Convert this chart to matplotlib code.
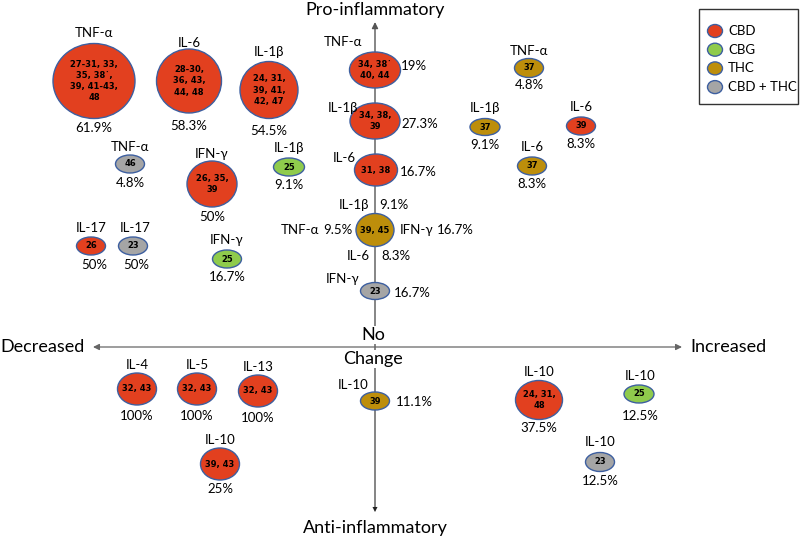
import matplotlib
matplotlib.use("Agg")
import matplotlib.pyplot as plt
from matplotlib.patches import Ellipse

plt.rcParams['font.family'] = ['Lato', 'DejaVu Sans']

# group -> fill colour
GROUPS = ["CBD", "CBG", "THC", "CBD + THC"]
GROUP_COLORS = ["#E2401F", "#8FCB4C", "#BD8E0B", "#A5A5A5"]
EDGE = "#3D5FA0"

# bubbles: cytokine, group, reference numbers, percentage
cytokines = ["TNF-α", "IL-6", "IL-1β", "TNF-α", "IFN-γ", "IL-1β", "IL-17", "IL-17",
             "IFN-γ", "TNF-α", "IL-1β", "IL-6", "", "IFN-γ", "TNF-α", "IL-1β",
             "IL-6", "IL-6", "IL-4", "IL-5", "IL-13", "IL-10", "IL-10", "IL-10",
             "IL-10", "IL-10"]
groups = ["CBD", "CBD", "CBD", "CBD + THC", "CBD", "CBG", "CBD", "CBD + THC",
          "CBG", "CBD", "CBD", "CBD", "THC", "CBD + THC", "THC", "THC",
          "CBD", "THC", "CBD", "CBD", "CBD", "CBD", "THC", "CBD",
          "CBG", "CBD + THC"]
refs = ["27-31, 33,\n35, 38˙,\n39, 41-43,\n48", "28-30,\n36, 43,\n44, 48",
        "24, 31,\n39, 41,\n42, 47", "46", "26, 35,\n39", "25", "26", "23",
        "25", "34, 38˙\n40, 44", "34, 38,\n39", "31, 38", "39, 45", "23", "37", "37",
        "39", "37", "32, 43", "32, 43", "32, 43", "39, 43", "39", "24, 31,\n48",
        "25", "23"]
percents = ["61.9%", "58.3%", "54.5%", "4.8%", "50%", "9.1%", "50%", "50%",
            "16.7%", "19%", "27.3%", "16.7%", "", "16.7%", "4.8%", "9.1%",
            "8.3%", "8.3%", "100%", "100%", "100%", "25%", "11.1%", "37.5%",
            "12.5%", "12.5%"]

# layout in pixel space (x right, y down)
cx = [94, 189, 269, 130, 212, 289, 91, 133, 227, 375, 375, 376, 375, 375, 529, 485,
      581, 532, 137, 197, 258, 220, 375, 539, 639, 600]
cy = [81, 81, 90, 164, 184, 167, 246, 246, 259, 70, 121, 170, 230, 291, 68, 127,
      126, 166, 389, 389, 391, 464, 401, 400, 394, 462]
bw = [82, 65, 58, 29, 50, 31, 29, 29, 29, 51, 50, 43, 38, 29, 29, 30,
      29, 29, 39, 39, 39, 39, 29, 47, 30, 29]
bh = [75, 64, 57, 18, 46, 18, 18, 18, 18, 36, 36, 32, 33, 17, 19, 17,
      18, 18, 32, 32, 32, 32, 18, 39, 18, 19]
lab_xy = [(94, 33), (189, 43), (269, 52), (130, 147), (212, 154), (289, 148),
          (91, 228), (135, 228), (227, 240), (343, 42), (343, 108), (344, 158),
          None, (343, 279), (529, 51), (485, 108), (581, 107), (532, 147),
          (137, 365), (197, 365), (258, 367), (220, 440), (353, 385), (539, 372),
          (640, 376), (600, 442)]
pct_xy = [(94, 128), (189, 126), (269, 131), (130, 183), (212, 217), (289, 185),
          (94, 265), (136, 265), (227, 277), (414, 66), (420, 124), (418, 172),
          None, (412, 293), (529, 85), (485, 145), (581, 144), (532, 184),
          (137, 416), (197, 416), (258, 418), (220, 489), (414, 402), (539, 428),
          (640, 416), (600, 481)]

# notes around the THC "39, 45" bubble
side_text = ["IL-1β", "9.1%", "TNF-α", "9.5%", "IFN-γ", "16.7%", "IL-6", "8.3%"]
side_xy = [(354, 205), (394, 205), (319, 230), (352, 230), (400, 230), (437, 230),
           (358, 256), (396, 256)]
side_ha = ["center", "center", "right", "right", "left", "left", "center", "center"]

fig = plt.figure(figsize=(8, 5.39), dpi=100)
ax = fig.add_axes([0, 0, 1, 1])
ax.set_xlim(0, 800)
ax.set_ylim(539, 0)
ax.axis("off")

# axes arrows
ax.annotate("", xy=(375, 22), xytext=(375, 510),
            arrowprops=dict(arrowstyle="-|>", color="#555", lw=1.0,
                            mutation_scale=9, shrinkA=0, shrinkB=0), zorder=1)
ax.annotate("", xy=(375, 512), xytext=(375, 347),
            arrowprops=dict(arrowstyle="-|>", color="#222", lw=0.01,
                            mutation_scale=9, shrinkA=0, shrinkB=0), zorder=1)
ax.annotate("", xy=(93, 347), xytext=(682, 347),
            arrowprops=dict(arrowstyle="<|-|>", color="#666", lw=0.9,
                            mutation_scale=9, shrinkA=0, shrinkB=0), zorder=1)

big = 13
ax.text(375, 10, "Pro-inflammatory", fontsize=big, ha="center", va="center")
ax.text(375, 528, "Anti-inflammatory", fontsize=big, ha="center", va="center")
ax.text(0, 347, "Decreased", fontsize=big, ha="left", va="center")
ax.text(690, 347, "Increased", fontsize=big, ha="left", va="center")
ax.text(373, 335, "No", fontsize=big, ha="center", va="center",
        bbox=dict(fc="white", ec="none", pad=0.5))
ax.text(373, 359, "Change", fontsize=big, ha="center", va="center",
        bbox=dict(fc="white", ec="none", pad=0.5))

fs = 9.5
for i in range(len(cx)):
    col = GROUP_COLORS[GROUPS.index(groups[i])]
    ax.add_patch(Ellipse((cx[i], cy[i]), bw[i], bh[i], facecolor=col,
                         edgecolor=EDGE, lw=1.0, zorder=3))
    ax.text(cx[i], cy[i], refs[i], fontsize=6, fontweight="bold",
            family="DejaVu Sans", ha="center", va="center",
            linespacing=1.3, zorder=4)
    if lab_xy[i] is not None:
        ax.text(*lab_xy[i], cytokines[i], fontsize=fs, ha="center", va="center")
    if pct_xy[i] is not None:
        ax.text(*pct_xy[i], percents[i], fontsize=fs, ha="center", va="center")

for t, (x, y), h in zip(side_text, side_xy, side_ha):
    ax.text(x, y, t, fontsize=fs, ha=h, va="center")

# legend box
ax.add_patch(plt.Rectangle((699, 9), 99, 95, facecolor="white",
                           edgecolor="#333", lw=1.0, zorder=2))
for k, (g, c) in enumerate(zip(GROUPS, GROUP_COLORS)):
    y = 31 + k * 18.7
    ax.add_patch(Ellipse((715, y), 15, 13, facecolor=c, edgecolor=EDGE,
                         lw=1.0, zorder=3))
    ax.text(728, y, g, fontsize=fs, ha="left", va="center", zorder=3)

fig.savefig("out.png", dpi=100)
